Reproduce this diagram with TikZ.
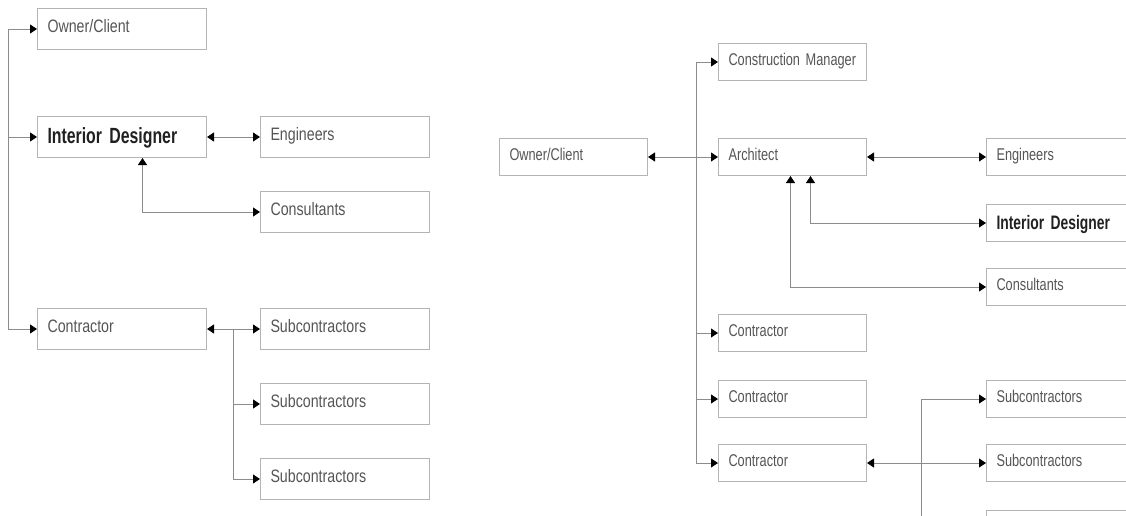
\documentclass[tikz,border=0pt]{standalone}
\usepackage{fontspec}
\setmainfont{Liberation Sans}
\newfontfamily\lfont[FakeStretch=0.79]{Liberation Sans}
\newfontfamily\rfont[FakeStretch=0.75]{Liberation Sans}
\newfontfamily\lbfont[FakeStretch=0.72]{Liberation Sans}
\newfontfamily\rbfont[FakeStretch=0.71]{Liberation Sans}
\usetikzlibrary{arrows.meta}
\definecolor{boxgray}{HTML}{B4B4B4}
\definecolor{linegray}{HTML}{8C8C8C}
\definecolor{txtgray}{HTML}{555555}
\definecolor{txtdark}{HTML}{202020}
\tikzset{
  box/.style={draw=boxgray, line width=1pt, anchor=north west, inner xsep=10pt, inner ysep=0pt,
    align=left, text=txtgray},
  lbox/.style={box, text width=149pt, minimum height=41pt, text height=12pt, text depth=5pt,
    font=\lfont\fontsize{18}{21}\selectfont},
  lbbox/.style={lbox, text=txtdark, text height=16pt, text depth=4pt,
    font=\lbfont\bfseries\fontsize{22}{26}\selectfont},
  rbox/.style={box, text width=128pt, minimum height=37pt, text height=11pt, text depth=5pt,
    font=\rfont\fontsize{17}{20}\selectfont},
  rbbox/.style={rbox, text=txtdark, text height=16pt, text depth=4pt,
    font=\rbfont\bfseries\fontsize{19.5}{23}\selectfont},
  conn/.style={draw=linegray, line width=0.8pt},
  arr/.style={conn, -{Triangle[length=7pt,width=9pt,color=black]}},
  dbl/.style={conn, {Triangle[length=7pt,width=9pt,color=black]}-{Triangle[length=7pt,width=9pt,color=black]}}
}
\begin{document}
\begin{tikzpicture}[x=1pt,y=-1pt]
\useasboundingbox (0,0) rectangle (1126,515);
\clip (0,0) rectangle (1126,515);
% ---------- left diagram ----------
\node[lbox]  (oc1)   at (37,8)   {Owner/Client};
\node[lbbox] (id1)   at (37,116) {Interior Designer};
\node[lbox]  (eng1)  at (260,116) {Engineers};
\node[lbox]  (cons1) at (260,191) {Consultants};
\node[lbox]  (con1)  at (37,308) {Contractor};
\node[lbox]  (sub1)  at (260,308) {Subcontractors};
\node[lbox]  (sub2)  at (260,383) {Subcontractors};
\node[lbox]  (sub3)  at (260,458) {Subcontractors};
\coordinate (lt) at (8,0);
\coordinate (lb) at (233,0);
\draw[conn] (lt |- oc1.west) -- (lt |- con1.west);
\draw[arr] (lt |- oc1.west) -- (oc1.west);
\draw[arr] (lt |- id1.west) -- (id1.west);
\draw[arr] (lt |- con1.west) -- (con1.west);
\draw[dbl] (id1.east) -- (eng1.west);
\draw[dbl] ([xshift=20.5pt]id1.south) |- (cons1.west);
\draw[dbl] (con1.east) -- (sub1.west);
\draw[conn] (lb |- con1.east) -- (lb |- sub3.west);
\draw[arr] (lb |- sub2.west) -- (sub2.west);
\draw[arr] (lb |- sub3.west) -- (sub3.west);
% ---------- right diagram ----------
\node[rbox]  (oc2)   at (499,138) {Owner/Client};
\node[rbox]  (cm)    at (718,43)  {Construction Manager};
\node[rbox]  (arch)  at (718,138) {Architect};
\node[rbox, text width=150pt]  (eng2)  at (986,138) {Engineers};
\node[rbbox, text width=150pt] (id2)   at (986,204) {Interior Designer};
\node[rbox, text width=150pt]  (cons2) at (986,268) {Consultants};
\node[rbox]  (con2a) at (718,314) {Contractor};
\node[rbox]  (con2b) at (718,380) {Contractor};
\node[rbox]  (con2c) at (718,444) {Contractor};
\node[rbox, text width=150pt]  (sub4)  at (986,380) {Subcontractors};
\node[rbox, text width=150pt]  (sub5)  at (986,444) {Subcontractors};
\node[rbox, text width=150pt]  (sub6)  at (986,510) {};
\coordinate (rt) at (696,0);
\coordinate (rb) at (921,0);
\draw[conn] (rt |- cm.west) -- (rt |- con2c.west);
\draw[arr] (rt |- cm.west) -- (cm.west);
\draw[dbl] (oc2.east) -- (arch.west);
\draw[arr] (rt |- con2a.west) -- (con2a.west);
\draw[arr] (rt |- con2b.west) -- (con2b.west);
\draw[arr] (rt |- con2c.west) -- (con2c.west);
\draw[dbl] (arch.east) -- (eng2.west);
\draw[dbl] ([xshift=18pt]arch.south) |- (id2.west);
\draw[dbl] ([xshift=-2pt]arch.south) |- (cons2.west);
\draw[dbl] (con2c.east) -- (sub5.west);
\draw[conn] (rb |- sub4.west) -- (rb |- sub6.west);
\draw[arr] (rb |- sub4.west) -- (sub4.west);
\draw[arr] (rb |- sub6.west) -- (sub6.west);
\end{tikzpicture}
\end{document}
